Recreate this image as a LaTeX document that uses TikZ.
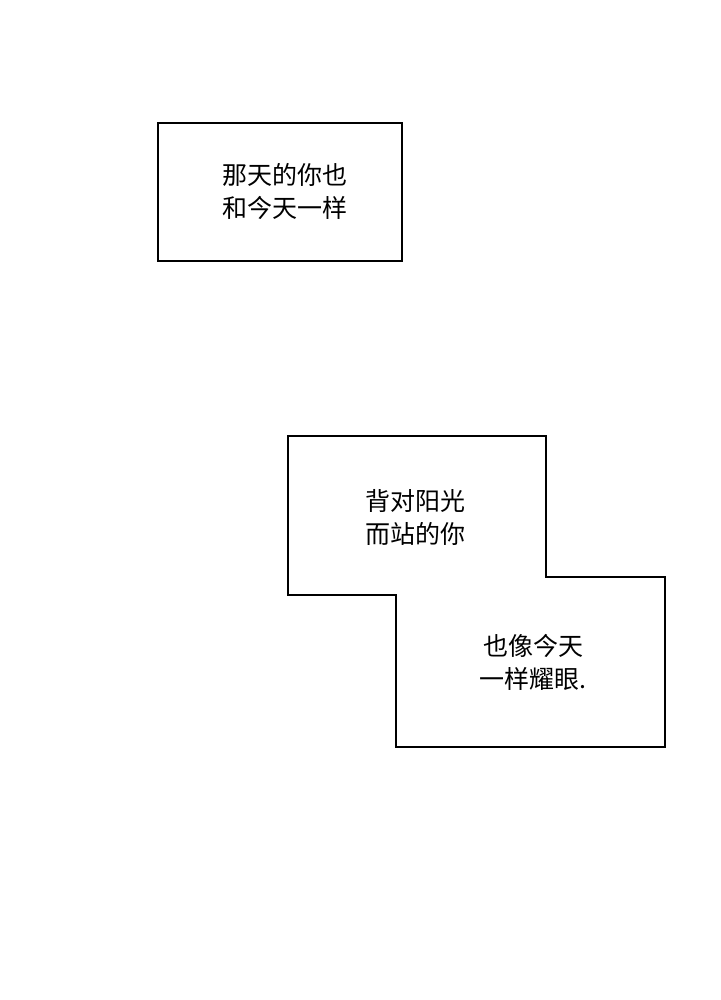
\documentclass[tikz,border=0pt]{standalone}
\usepackage{fontspec}
\newfontfamily\cjk{Noto Sans CJK SC}
\usepackage{tikz}
\usetikzlibrary{positioning}

\begin{document}
\begin{tikzpicture}[x=1pt, y=-1pt]
\tikzset{panel/.style={draw=black, line width=2.6pt, line join=miter},
  caption/.style={font=\cjk\fontsize{25}{33}\selectfont, align=center, inner sep=0pt}}
\useasboundingbox (0,0) rectangle (720,1000);
\draw[panel] (158,123) rectangle (402,261);
\node (first) [caption] at (285,191) {那天的你也\\和今天一样};
\draw[panel] (288,436) -- (546,436) -- (546,577) -- (665,577) -- (665,747) -- (396,747) -- (396,595) -- (288,595) -- cycle;
\node (back) [caption] at (415,517) {背对阳光\\而站的你};
\node (shine) [caption] at (533,662) {也像今天\\一样耀眼.};
\end{tikzpicture}
\end{document}
